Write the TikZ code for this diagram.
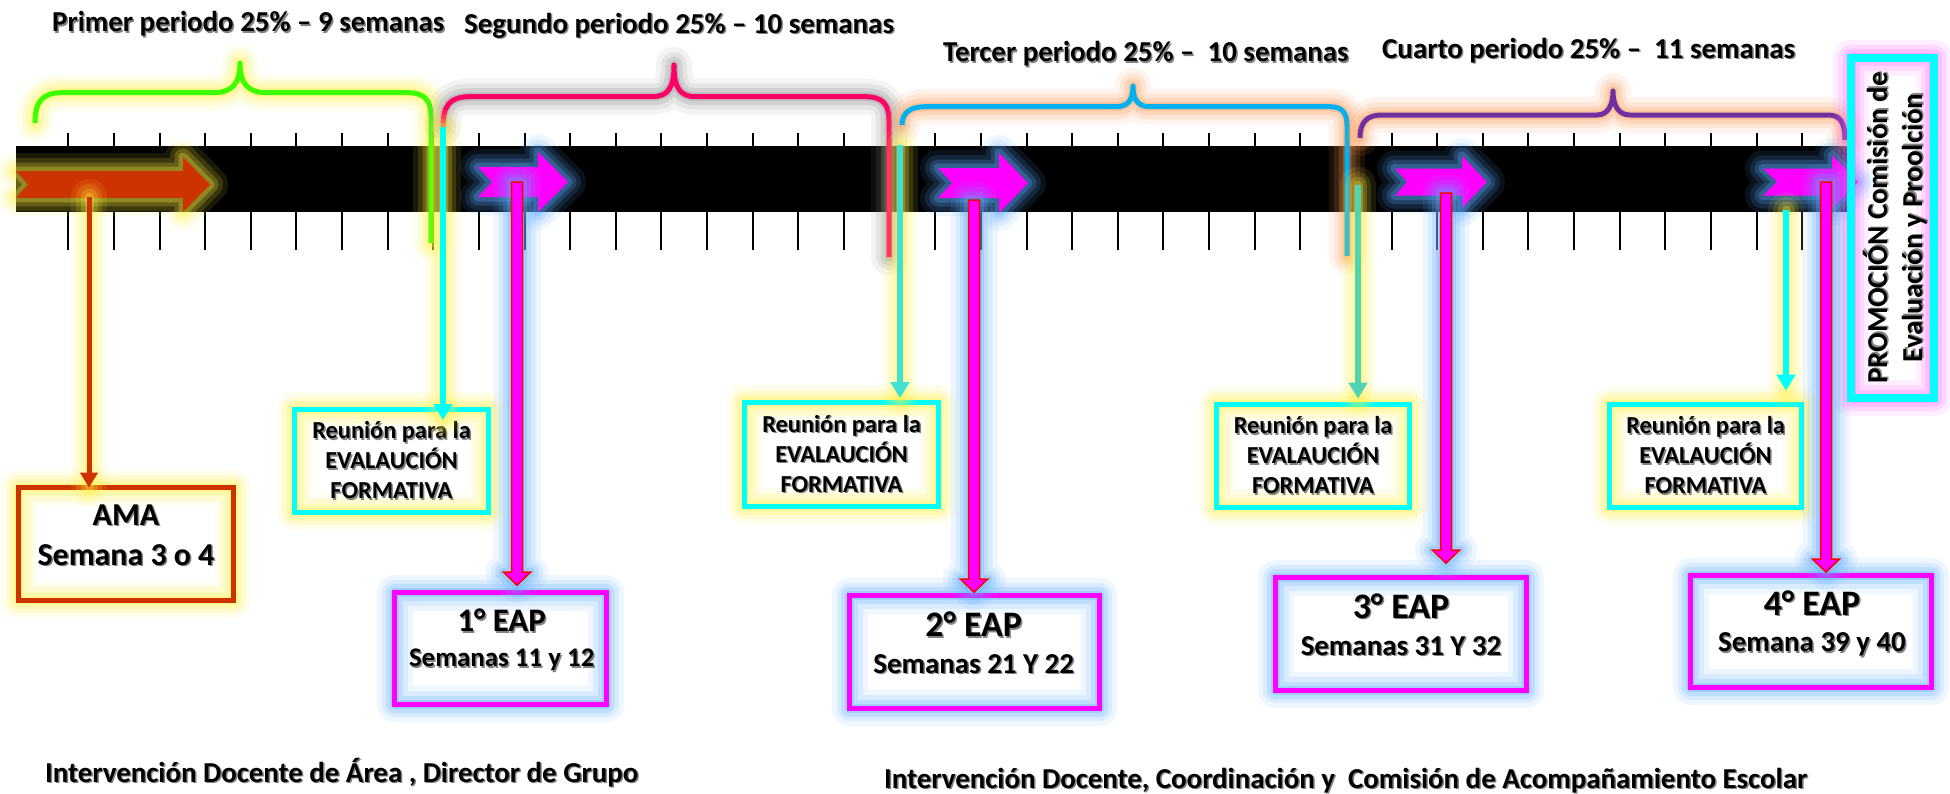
\documentclass[tikz,border=0pt]{standalone}
\usepackage{fontspec}
\setmainfont{Carlito}
\usetikzlibrary{calc,arrows.meta}
\definecolor{cGreen}{RGB}{60,255,0}
\definecolor{cPink}{RGB}{255,0,102}
\definecolor{cBlue}{RGB}{0,176,240}
\definecolor{cPurple}{RGB}{112,48,160}
\definecolor{cOrange}{RGB}{204,51,0}
\definecolor{cMag}{RGB}{255,0,255}
\definecolor{cCyan}{RGB}{0,255,255}
\definecolor{cTurq}{RGB}{64,224,210}
\definecolor{cTeal}{RGB}{80,212,180}
\definecolor{gYellow}{RGB}{255,240,60}
\definecolor{gBlue}{RGB}{90,170,255}
\definecolor{gPink}{RGB}{255,90,255}
\definecolor{gGray}{RGB}{140,140,140}
\definecolor{gOrange}{RGB}{248,150,80}
\definecolor{shade}{RGB}{130,130,130}
\newcommand\sht[1]{\leavevmode\rlap{\kern1.5bp\raisebox{-1.5bp}{\textcolor{shade}{#1}}}#1}
% chevron: #1 style, #2 left x, #3 notch depth, #4 head start x, #5 tip x, #6 centre y, #7 shaft half, #8 head half
\newcommand\chevron[8]{\path[#1] (#2,#6-#7) -- (#4,#6-#7) -- (#4,#6-#8) -- (#5,#6) -- (#4,#6+#8) -- (#4,#6+#7) -- (#2,#6+#7) -- (#2+#3,#6) -- cycle;}
% vertical block arrow from coordinate #1 to tip coordinate #2
\newcommand\vblock[2]{\draw[vblk] ($(#1)+(-5.5,0)$) -- ($(#2)+(-5.5,-13)$) -- ($(#2)+(-13.5,-13)$) -- (#2) -- ($(#2)+(13.5,-13)$) -- ($(#2)+(5.5,-13)$) -- ($(#1)+(5.5,0)$) -- cycle;}
\begin{document}
\begin{tikzpicture}[x=1bp,y=-1bp,
  glow/.style={
    preaction={draw=#1,fill=none,arrows=-,line cap=round,line join=round,draw opacity=.10,line width=36bp},
    preaction={draw=#1,fill=none,arrows=-,line cap=round,line join=round,draw opacity=.15,line width=26bp},
    preaction={draw=#1,fill=none,arrows=-,line cap=round,line join=round,draw opacity=.21,line width=17bp},
    preaction={draw=#1,fill=none,arrows=-,line cap=round,line join=round,draw opacity=.29,line width=9bp}},
  tick/.style={line width=2bp},
  brace/.style={line width=5bp, line cap=butt, line join=round},
  amachev/.style={fill=cOrange, glow=gYellow},
  magchev/.style={fill=cMag, glow=gBlue},
  vblk/.style={draw=red, fill=cMag, line width=1.5bp, line join=miter, glow=gBlue},
  orgarrow/.style={draw=cOrange, line width=5bp, -{Triangle[length=15bp,width=17bp]}, glow=gYellow},
  cyarrow/.style={draw=#1, line width=5.5bp, -{Triangle[length=16bp,width=18bp]}, glow=gYellow},
  box/.style={rectangle, draw, line width=5bp, outer sep=0pt, inner sep=0pt},
  amabox/.style={box, draw=cOrange, glow=gYellow},
  reubox/.style={box, draw=cCyan, glow=gYellow, align=center, font=\bfseries\fontsize{24.5}{30}\selectfont},
  eapbox/.style={box, draw=cMag, glow=gBlue},
  promobox/.style={box, draw=cCyan, line width=8bp, glow=gPink},
  ttl/.style={anchor=base west, inner sep=0pt, font=\bfseries\fontsize{29}{35}\selectfont},
  lbl/.style={anchor=base, inner sep=0pt, font=\bfseries\fontsize{#1}{#1}\selectfont},
]
\useasboundingbox (0,0) rectangle (1950,794);

% ticks
\foreach \k in {0,...,38}{
  \draw[tick] ({68.3+45.63*\k},133) -- ++(0,13);
  \draw[tick] ({68.3+45.63*\k},212) -- ++(0,38);
}
% time bar
\fill[black] (16,146) rectangle (1847,212);

% braces
\draw[brace, draw=cGreen, glow=gYellow] (35,123) .. controls (35,102) and (42,92.7) .. (62,92.7) -- (213,92.7) .. controls (232,92.7) and (240,84) .. (240,63) .. controls (240,84) and (248,92.7) .. (267,92.7) -- (408,92.7) .. controls (424,92.7) and (431,100) .. (431,116) -- (431,243);
\draw[brace, draw=cPink, glow=gGray] (443,127) .. controls (443,105) and (450,96.7) .. (470,96.7) -- (652,96.7) .. controls (668,96.7) and (674,88) .. (674,65) .. controls (674,88) and (680,96.7) .. (696,96.7) -- (866,96.7) .. controls (882,96.7) and (889,104) .. (889,120) -- (889,257);
\draw[brace, draw=cBlue, glow=gOrange] (902,125) .. controls (902,113) and (910,106.7) .. (925,106.7) -- (1116,106.7) .. controls (1128,106.7) and (1133,100) .. (1133,86) .. controls (1133,100) and (1138,106.7) .. (1150,106.7) -- (1330,106.7) .. controls (1342,106.7) and (1347,113) .. (1347,125) -- (1347,256);
\draw[brace, draw=cPurple, glow=gOrange] (1360,138) .. controls (1360,122) and (1367,115) .. (1382,115) -- (1597,115) .. controls (1608,115) and (1613,105) .. (1613,91) .. controls (1613,105) and (1618,115) .. (1630,115) -- (1828,115) .. controls (1840,115) and (1845,122) .. (1845,140);

% arrows on the bar
\chevron{amachev}{16}{12}{183}{210}{184.5}{13.3}{27.5}
\chevron{magchev}{478}{14}{538}{568}{182}{15}{30}
\chevron{magchev}{938}{14}{999}{1028}{183}{15}{30}
\chevron{magchev}{1395}{12}{1462}{1487}{182}{13.5}{26}
\chevron{magchev}{1763}{14}{1832}{1858}{182}{13.5}{26.5}

% boxes
\node[amabox, minimum width=215, minimum height=113] (ama) at (126,544) {};
\node[reubox, minimum width=194, minimum height=103] (r1) at (391.5,461) {\sht{Reunión para la}\\\sht{EVALAUCIÓN}\\\sht{FORMATIVA}};
\node[reubox, minimum width=194, minimum height=104] (r2) at (841.5,454.5) {\sht{Reunión para la}\\\sht{EVALAUCIÓN}\\\sht{FORMATIVA}};
\node[reubox, minimum width=193, minimum height=103] (r3) at (1313,456) {\sht{Reunión para la}\\\sht{EVALAUCIÓN}\\\sht{FORMATIVA}};
\node[reubox, minimum width=192, minimum height=103] (r4) at (1705.5,456) {\sht{Reunión para la}\\\sht{EVALAUCIÓN}\\\sht{FORMATIVA}};
\node[eapbox, minimum width=212, minimum height=112] (eap1) at (500.5,648.5) {};
\node[eapbox, minimum width=250, minimum height=113] (eap2) at (974.5,652) {};
\node[eapbox, minimum width=251, minimum height=113] (eap3) at (1401,634) {};
\node[eapbox, minimum width=241, minimum height=112] (eap4) at (1811,631.4) {};
\node[promobox, minimum width=83, minimum height=342] (promo) at (1892.5,228) {};

% vertical connectors
\coordinate (a0) at (89,197);
\draw[orgarrow] (a0) -- (a0 |- ama.north);

\coordinate (c1) at (443,127);
\coordinate (c2) at (900,145);
\coordinate (c3) at (1358,185);
\coordinate (c4) at (1786,210);
\draw[cyarrow=cCyan, shorten >=-10.5bp] (c1) -- (c1 |- r1.north);
\draw[cyarrow=cTurq, shorten >=4.5bp] (c2) -- (c2 |- r2.north);
\draw[cyarrow=cTeal, shorten >=6bp] (c3) -- (c3 |- r3.north);
\draw[cyarrow=cCyan, shorten >=14bp] (c4) -- (c4 |- r4.north);

\coordinate (m1s) at (517,182);
\coordinate (m2s) at (974,200);
\coordinate (m3s) at (1446,193);
\coordinate (m4s) at (1826,182);
\coordinate (m1e) at ($(m1s |- eap1.north)+(0,-7.5)$);
\coordinate (m2e) at ($(m2s |- eap2.north)+(0,-3.5)$);
\coordinate (m3e) at ($(m3s |- eap3.north)+(0,-14.5)$);
\coordinate (m4e) at ($(m4s |- eap4.north)+(0,-3.5)$);
\vblock{m1s}{m1e}
\vblock{m2s}{m2e}
\vblock{m3s}{m3e}
\vblock{m4s}{m4e}

% box texts
\node[lbl=32] (amaT1) at (126,525) {\sht{AMA}};
\node[lbl=32] (amaT2) at (126,565) {\sht{Semana 3 o 4}};
\node[lbl=33] (e1a) at (501.7,631.7) {\sht{1° EAP}};
\node[lbl=27] (e1b) at (501.7,666.7) {\sht{Semanas 11 y 12}};
\node[lbl=36] (e2a) at (973.7,636.7) {\sht{2° EAP}};
\node[lbl=29] (e2b) at (973.7,673.3) {\sht{Semanas 21 Y 22}};
\node[lbl=36] (e3a) at (1401,618.3) {\sht{3° EAP}};
\node[lbl=29] (e3b) at (1401,655) {\sht{Semanas 31 Y 32}};
\node[lbl=36] (e4a) at (1812,615) {\sht{4° EAP}};
\node[lbl=29] (e4b) at (1812,651.7) {\sht{Semana 39 y 40}};
\node[rotate=90, align=center, inner sep=0pt, font=\bfseries\fontsize{29}{35}\selectfont] (promoT) at (1895.5,228) {\sht{PROMOCIÓN Comisión de}\\\sht{Evaluación y Proolción}};

% titles
\node[ttl] (t1) at (52,31.7) {\sht{Primer periodo 25\% – 9 semanas}};
\node[ttl] (t2) at (464,33.3) {\sht{Segundo periodo 25\% – 10 semanas}};
\node[ttl] (t3) at (943,61.7) {\sht{Tercer periodo 25\% –~~10 semanas}};
\node[ttl] (t4) at (1382,58.3) {\sht{Cuarto periodo 25\% –~~11 semanas}};

% bottom notes
\node[ttl] (n1) at (45,782) {\sht{Intervención Docente de Área , Director de Grupo}};
\node[ttl] (n2) at (884,788) {\sht{Intervención Docente, Coordinación y~~Comisión de Acompañamiento Escolar}};
\end{tikzpicture}
\end{document}
